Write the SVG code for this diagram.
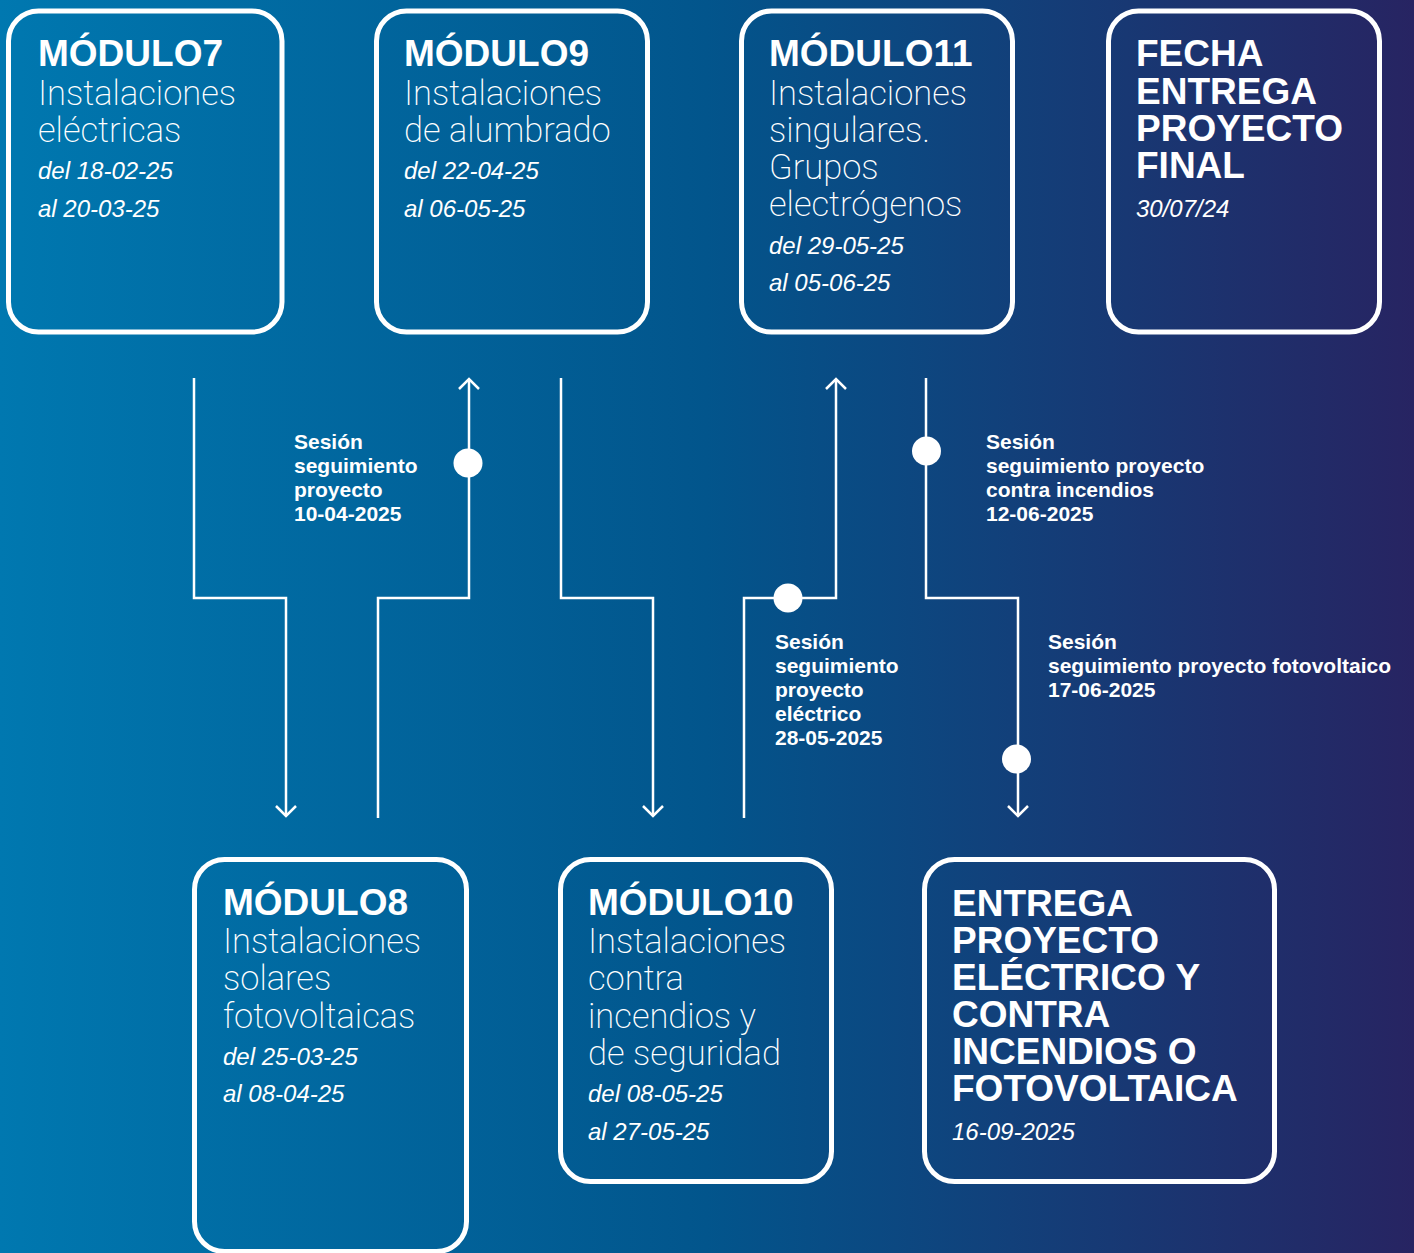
<svg xmlns="http://www.w3.org/2000/svg" width="1414" height="1253" viewBox="0 0 1414 1253">
<defs>
<linearGradient id="bg" x1="0" y1="0" x2="1" y2="0">
<stop offset="0" stop-color="#0078b0"/>
<stop offset="0.5" stop-color="#02558c"/>
<stop offset="1" stop-color="#272462"/>
</linearGradient>
<marker id="arr" viewBox="-12 -12 24 24" refX="0" refY="0" markerWidth="24" markerHeight="24" orient="auto" markerUnits="userSpaceOnUse">
<path d="M-10,-10 L0,0 L-10,10" fill="none" stroke="#fff" stroke-width="2.5"/>
</marker>
<style>
.box{fill:none;stroke:#fff;stroke-width:5}
.t{font-family:"Liberation Sans",Arial,sans-serif;font-weight:bold;font-size:37px;fill:#fff}
.s{font-family:Roboto,"Liberation Sans",sans-serif;font-weight:200;font-size:34.5px;fill:#fff}
.d{font-family:"Liberation Sans",Arial,sans-serif;font-style:italic;font-size:24px;fill:#fff}
.l{font-family:"Liberation Sans",Arial,sans-serif;font-weight:bold;font-size:21px;fill:#fff}
.c{fill:none;stroke:#fff;stroke-width:2.5;marker-end:url(#arr)}
.dot{fill:#fff}
</style>
</defs>
<rect width="1414" height="1253" fill="url(#bg)"/>

<g id="connectors">
<path class="c" d="M194,378 V598 H286 V816"/>
<path class="c" d="M378,818 V598 H469 V379"/>
<path class="c" d="M561,378 V598 H653 V816"/>
<path class="c" d="M744,818 V598 H836 V379"/>
<path class="c" d="M926,378 V598 H1018 V816"/>
<circle class="dot" cx="468" cy="463" r="14.5"/>
<circle class="dot" cx="926.5" cy="451" r="14.5"/>
<circle class="dot" cx="788" cy="598" r="14.5"/>
<circle class="dot" cx="1016.5" cy="759" r="14.5"/>
</g>

<g id="label-10-04">
<text class="l" x="294" y="449">Sesión</text>
<text class="l" x="294" y="473">seguimiento</text>
<text class="l" x="294" y="497">proyecto</text>
<text class="l" x="294" y="521">10-04-2025</text>
</g>
<g id="label-12-06">
<text class="l" x="986" y="449">Sesión</text>
<text class="l" x="986" y="473">seguimiento proyecto</text>
<text class="l" x="986" y="497">contra incendios</text>
<text class="l" x="986" y="521">12-06-2025</text>
</g>
<g id="label-28-05">
<text class="l" x="775" y="649">Sesión</text>
<text class="l" x="775" y="673">seguimiento</text>
<text class="l" x="775" y="697">proyecto</text>
<text class="l" x="775" y="721">eléctrico</text>
<text class="l" x="775" y="745">28-05-2025</text>
</g>
<g id="label-17-06">
<text class="l" x="1048" y="649">Sesión</text>
<text class="l" x="1048" y="673">seguimiento proyecto fotovoltaico</text>
<text class="l" x="1048" y="697">17-06-2025</text>
</g>

<g id="modulo7">
<rect class="box" x="8.5" y="11" width="273.5" height="321" rx="30"/>
<text class="t" x="38" y="66">MÓDULO7</text>
<text class="s" x="38" y="105">Instalaciones</text>
<text class="s" x="38" y="142">eléctricas</text>
<text class="d" x="38" y="179">del 18-02-25</text>
<text class="d" x="38" y="217">al 20-03-25</text>
</g>
<g id="modulo9">
<rect class="box" x="376.5" y="11" width="271" height="321" rx="30"/>
<text class="t" x="404" y="66">MÓDULO9</text>
<text class="s" x="404" y="105">Instalaciones</text>
<text class="s" x="404" y="142">de alumbrado</text>
<text class="d" x="404" y="179">del 22-04-25</text>
<text class="d" x="404" y="217">al 06-05-25</text>
</g>
<g id="modulo11">
<rect class="box" x="741.5" y="11" width="271" height="321" rx="30"/>
<text class="t" x="769" y="66">MÓDULO11</text>
<text class="s" x="769" y="105">Instalaciones</text>
<text class="s" x="769" y="142">singulares.</text>
<text class="s" x="769" y="179">Grupos</text>
<text class="s" x="769" y="216">electrógenos</text>
<text class="d" x="769" y="254">del 29-05-25</text>
<text class="d" x="769" y="291">al 05-06-25</text>
</g>
<g id="fecha-final">
<rect class="box" x="1108.5" y="11" width="271" height="321" rx="30"/>
<text class="t" x="1136" y="66">FECHA</text>
<text class="t" x="1136" y="104">ENTREGA</text>
<text class="t" x="1136" y="141">PROYECTO</text>
<text class="t" x="1136" y="178">FINAL</text>
<text class="d" x="1136" y="217">30/07/24</text>
</g>
<g id="modulo8">
<rect class="box" x="194.5" y="859.5" width="272" height="392" rx="30"/>
<text class="t" x="223" y="915">MÓDULO8</text>
<text class="s" x="223" y="953">Instalaciones</text>
<text class="s" x="223" y="990">solares</text>
<text class="s" x="223" y="1028">fotovoltaicas</text>
<text class="d" x="223" y="1065">del 25-03-25</text>
<text class="d" x="223" y="1102">al 08-04-25</text>
</g>
<g id="modulo10">
<rect class="box" x="560.5" y="859.5" width="271" height="322" rx="30"/>
<text class="t" x="588" y="915">MÓDULO10</text>
<text class="s" x="588" y="953">Instalaciones</text>
<text class="s" x="588" y="990">contra</text>
<text class="s" x="588" y="1028">incendios y</text>
<text class="s" x="588" y="1065">de seguridad</text>
<text class="d" x="588" y="1102">del 08-05-25</text>
<text class="d" x="588" y="1140">al 27-05-25</text>
</g>
<g id="entrega">
<rect class="box" x="924.5" y="859.5" width="350" height="322" rx="30"/>
<text class="t" x="952" y="916">ENTREGA</text>
<text class="t" x="952" y="953">PROYECTO</text>
<text class="t" x="952" y="990">ELÉCTRICO Y</text>
<text class="t" x="952" y="1027">CONTRA</text>
<text class="t" x="952" y="1064">INCENDIOS O</text>
<text class="t" x="952" y="1101">FOTOVOLTAICA</text>
<text class="d" x="952" y="1140">16-09-2025</text>
</g>
</svg>
